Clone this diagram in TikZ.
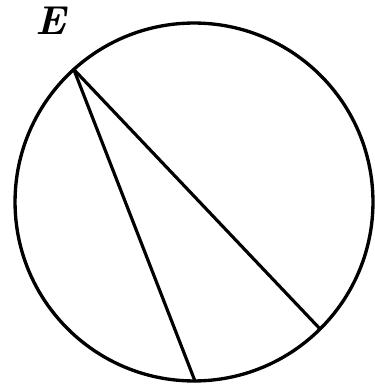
\documentclass[tikz,border=0pt]{standalone}
\usepackage{amsmath,amssymb}
\usepackage{tikz}
\usetikzlibrary{calc}
\tikzset{
  rim/.style={line width=1.9pt},
  chord/.style={line width=1.8pt, line cap=round},
  ptlabel/.style={font=\fontsize{23}{26}\selectfont\bfseries\itshape, inner sep=0pt},
}

\begin{document}
\begin{tikzpicture}[x=0.02cm, y=-0.02cm]
  \useasboundingbox (0,0) rectangle (374,384);

  % circle
  \coordinate (O) at (194,202);
  \draw[rim] (O) circle[radius=3.58cm];

  % points on the rim
  \coordinate (E) at ($(O)+(132.2:3.58cm)$);
  \coordinate (B) at ($(O)+(270.3:3.58cm)$);
  \coordinate (C) at ($(O)+(314.8:3.58cm)$);

  % chords from E
  \draw[chord] (E) -- (B);
  \draw[chord] (E) -- (C);

  % Labels
  \node[ptlabel] (lE) at (51,21) {E};
\end{tikzpicture}
\end{document}
